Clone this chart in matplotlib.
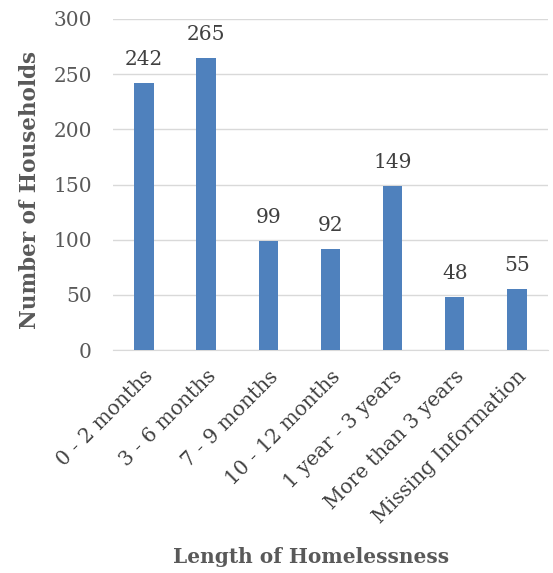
import matplotlib.pyplot as plt
import numpy as np

categories = ["0 - 2 months", "3 - 6 months", "7 - 9 months", "10 - 12 months",
              "1 year - 3 years", "More than 3 years", "Missing Information"]
households = [242, 265, 99, 92, 149, 48, 55]
y_ticks = [0, 50, 100, 150, 200, 250, 300]

plt.rcParams["font.family"] = ["DejaVu Serif"]

fig = plt.figure(figsize=(5.53, 5.73), dpi=100)
ax = fig.add_axes([0.204, 0.389, 0.787, 0.578])

x = np.arange(len(categories))
bars = ax.bar(x, households, width=0.31, color="#4f81bd", zorder=3)
ax.bar_label(bars, labels=[str(v) for v in households], padding=10,
             fontsize=14.5, color="#404040")

ax.set_xlim(-0.5, len(categories) - 0.5)
ax.set_ylim(0, 300)
ax.set_yticks(y_ticks)
ax.set_yticklabels([str(t) for t in y_ticks], fontsize=14.5, color="#595959")
ax.set_xticks(x)
ax.set_xticklabels(categories, rotation=45, ha="right", rotation_mode="anchor",
                   fontsize=14.5, color="#404040")
ax.tick_params(axis="both", length=0)
ax.tick_params(axis="y", pad=15)
ax.tick_params(axis="x", pad=12)

ax.grid(axis="y", color="#d9d9d9", linewidth=1, zorder=0)
for s in ["top", "right", "left"]:
    ax.spines[s].set_visible(False)
ax.spines["bottom"].set_color("#d9d9d9")

ax.set_ylabel("Number of Households", fontsize=15.5, fontweight="bold", color="#595959",
              va="center", ha="center")
ax.yaxis.set_label_coords(-0.19, 0.483)
ax.set_xlabel("Length of Homelessness", fontsize=14.5, fontweight="bold", color="#595959",
              va="center", ha="center")
ax.xaxis.set_label_coords(0.455, -0.625)

plt.savefig("out.png", dpi=100)
